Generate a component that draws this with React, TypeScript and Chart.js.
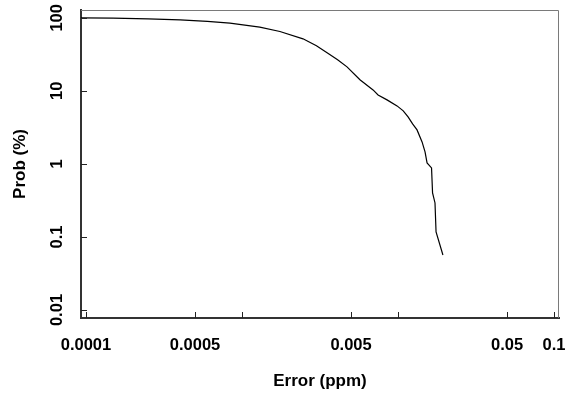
import React, { useEffect, useRef } from "react";
import { Chart, registerables } from "chart.js";

Chart.register(...registerables);

const errorPpm = [
  0.0000929, 0.000149, 0.00025, 0.000401, 0.0006, 0.000837, 0.0013, 0.00175,
  0.00246, 0.003, 0.00351, 0.0041, 0.00471, 0.0057, 0.00692, 0.00745, 0.0085,
  0.00986, 0.0108, 0.0116, 0.0124, 0.01324, 0.01426, 0.0149, 0.01535, 0.0164,
  0.01665, 0.01726, 0.01753, 0.0194,
];
const probPct = [
  100, 99, 96.9, 93.9, 89.5, 84.6, 74.6, 65, 51.6, 41.4, 33.2, 26.6, 21.3, 14.2,
  10.3, 8.8, 7.53, 6.23, 5.33, 4.4, 3.53, 2.92, 2.0, 1.46, 1.03, 0.88, 0.4,
  0.292, 0.117, 0.0566,
];
const xTickValues = [0.0001, 0.0005, 0.001, 0.005, 0.01, 0.05, 0.1];
const xTickLabels = ["0.0001", "0.0005", "", "0.005", "", "0.05", "0.1"];
const yTickValues = [0.01, 0.1, 1, 10, 100];
const yTickLabels = ["0.01", "0.1", "1", "10", "100"];

const FONT = "'Liberation Sans', Arial, Helvetica, sans-serif";

const framePlugin = {
  id: "frame",
  afterDraw(chart: any) {
    const { ctx, chartArea: a, scales } = chart;
    ctx.save();
    ctx.strokeStyle = "#7a7a7a";
    ctx.lineWidth = 1;
    ctx.beginPath();
    ctx.moveTo(a.left, a.top + 0.5);
    ctx.lineTo(a.right - 0.5, a.top + 0.5);
    ctx.lineTo(a.right - 0.5, a.bottom);
    ctx.stroke();
    ctx.strokeStyle = "#222";
    ctx.lineWidth = 1;
    ctx.beginPath();
    scales.x.ticks.forEach((t: any) => {
      const px = Math.round(scales.x.getPixelForValue(t.value)) + 0.5;
      ctx.moveTo(px, a.bottom);
      ctx.lineTo(px, a.bottom - 6);
    });
    scales.y.ticks.forEach((t: any) => {
      const py = Math.round(scales.y.getPixelForValue(t.value)) + 0.5;
      ctx.moveTo(a.left, py);
      ctx.lineTo(a.left + 6, py);
    });
    ctx.stroke();
    ctx.restore();
  },
};

export default function App() {
  const ref = useRef<HTMLCanvasElement>(null);
  useEffect(() => {
    if (!ref.current) return;
    const points = errorPpm.map((x, i) => ({ x, y: probPct[i] }));
    const chart = new Chart(ref.current, {
      type: "line",
      data: {
        datasets: [
          {
            data: points,
            borderColor: "#000",
            borderWidth: 1.2,
            pointRadius: 0,
            tension: 0,
            fill: false,
          },
        ],
      },
      options: {
        animation: false,
        responsive: false,
        maintainAspectRatio: false,
        layout: { padding: { top: 10, right: 11, left: 0, bottom: 0 } },
        plugins: { legend: { display: false }, tooltip: { enabled: false } },
        scales: {
          x: {
            type: "logarithmic",
            min: 0.0000929,
            max: 0.1076,
            afterBuildTicks: (s: any) => {
              s.ticks = xTickValues.map((v) => ({ value: v }));
            },
            afterFit: (s: any) => {
              s.height = 75;
              s.paddingLeft = 0;
              s.paddingRight = 0;
            },
            ticks: {
              autoSkip: false,
              maxRotation: 0,
              minRotation: 0,
              padding: 18,
              color: "#000",
              font: { family: FONT, size: 16.5, weight: "bold" },
              callback: (v: any) => {
                const i = xTickValues.findIndex((t) => Math.abs(t - v) / t < 1e-6);
                return i >= 0 ? xTickLabels[i] : "";
              },
            },
            grid: { drawOnChartArea: false, drawTicks: false },
            border: { color: "#333", width: 2 },
            title: {
              display: true,
              text: "Error (ppm)",
              color: "#000",
              font: { family: FONT, size: 17, weight: "bold" },
              padding: { top: 0, bottom: 1 },
            },
          },
          y: {
            type: "logarithmic",
            min: 0.00777,
            max: 128,
            afterBuildTicks: (s: any) => {
              s.ticks = yTickValues.map((v) => ({ value: v }));
            },
            afterFit: (s: any) => {
              s.width = 81;
              s.paddingTop = 0;
              s.paddingBottom = 0;
            },
            ticks: {
              autoSkip: false,
              minRotation: 90,
              maxRotation: 90,
              crossAlign: "center",
              padding: 7,
              color: "#000",
              font: { family: FONT, size: 16.5, weight: "bold" },
              callback: (v: any) => {
                const i = yTickValues.findIndex((t) => Math.abs(t - v) / t < 1e-6);
                return i >= 0 ? yTickLabels[i] : "";
              },
            },
            grid: { drawOnChartArea: false, drawTicks: false },
            border: { color: "#333", width: 2 },
            title: {
              display: true,
              text: "Prob (%)",
              color: "#000",
              font: { family: FONT, size: 17, weight: "bold" },
              padding: { top: 10, bottom: 0 },
            },
          },
        },
      },
      plugins: [framePlugin],
    } as any);
    return () => chart.destroy();
  }, []);
  return (
    <div style={{ position: "fixed", left: 0, top: 0, width: 570, height: 393, background: "#fff" }}>
      <canvas ref={ref} width={570} height={393} />
    </div>
  );
}
